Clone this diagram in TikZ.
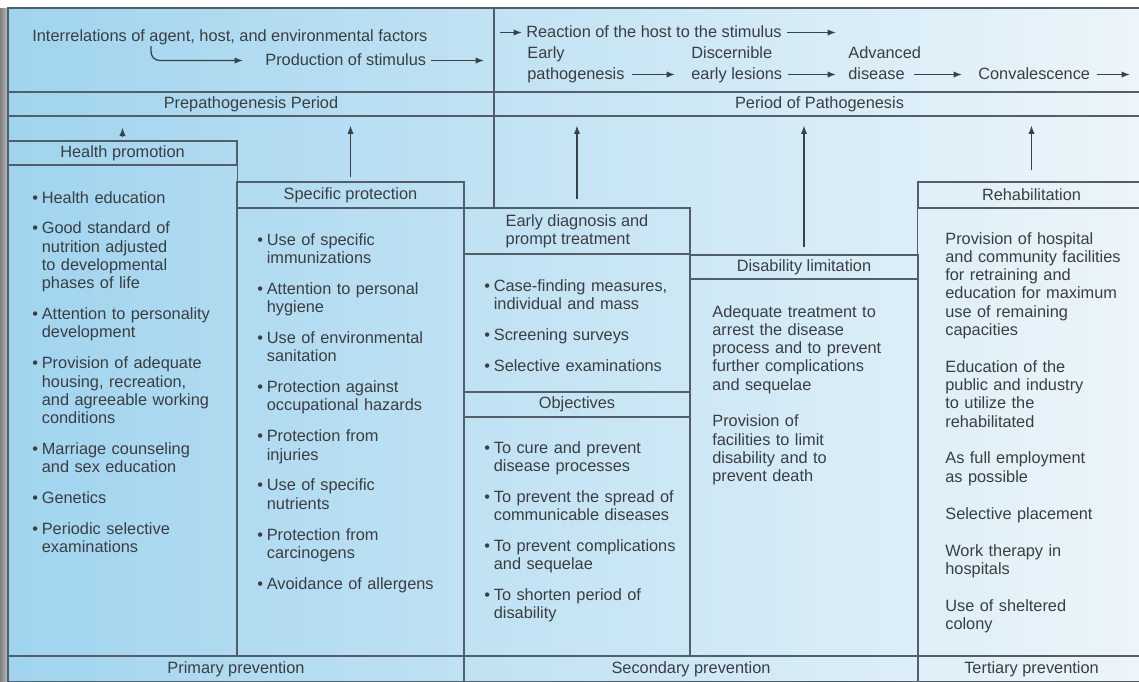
\documentclass[tikz,border=0pt]{standalone}
\usepackage{fontspec}
\setmainfont{Liberation Sans}
\usetikzlibrary{positioning,arrows.meta}

\newdimen\px \px=0.02cm
\definecolor{linec}{RGB}{82,94,104}
\definecolor{txtc}{RGB}{58,62,66}
\definecolor{bgleft}{RGB}{160,212,238}
\definecolor{bgright}{RGB}{236,245,250}

% list lines inside the column boxes
\newcommand{\bfst}[1]{\makebox[9.5\px][l]{\textbullet}#1}
\newcommand{\bpt}[1]{\par\vspace{7.2pt}\noindent\makebox[9.5\px][l]{\textbullet}#1}
\newcommand{\cnt}[1]{\par\noindent\hspace*{9.5\px}#1}
\newcommand{\lin}[1]{\par\noindent #1}
\newcommand{\pgap}{\par\vspace{10.6pt}}

\begin{document}
\begin{tikzpicture}[x=0.02cm, y=-0.02cm, font=\fontsize{9.3}{10.4}\selectfont,
  grid/.style={draw=linec, line width=0.6pt},
  arr/.style={draw=linec!70!black, line width=0.75pt, -{Latex[length=4.8pt,width=3.6pt]}},
  lbl/.style={inner sep=0, text=txtc, text height=0.72em, text depth=0.21em, anchor=base west},
  hdr/.style={draw=linec, line width=0.6pt, inner sep=0, text=txtc},
  body/.style={anchor=base west, inner sep=0, text width=200*\px, text=txtc}]
\useasboundingbox (0,0) rectangle (1139,681);

% background
\fill[white] (0,0) rectangle (1139,681);
\shade[left color=black!50, right color=black!25] (0,8) rectangle (8,681);
\shade[left color=bgleft, right color=bgright] (8,8) rectangle (1139,681);

\draw[grid] (8,681) -- (8,8) -- (1145,8);
\draw[grid] (494,8) -- (494,208);

% top band
\node[lbl] (interr) at (32,41) {Interrelations of agent, host, and environmental factors};
\node[lbl] (prod) at (265,65) {Production of stimulus};
\node[lbl] (react) at (526,37) {Reaction of the host to the stimulus};
\node[lbl] (early1) at (527,58) {Early};
\node[lbl] (early2) at (527,79) {pathogenesis};
\node[lbl] (disc1) at (691,58) {Discernible};
\node[lbl] (disc2) at (691,79) {early lesions};
\node[lbl] (adv1) at (848,58) {Advanced};
\node[lbl] (adv2) at (848,79) {disease};
\node[lbl] (conv) at (978,79) {Convalescence};

\coordinate (hook) at (151,46);
\coordinate (pend) at (484,0);
\coordinate (rbeg) at (500,0);
\coordinate (rend) at (836,0);
\coordinate (cend) at (1130,0);
\draw[arr, rounded corners=5pt] (hook) |- ([shift={(-22,0)}]prod.west);
\draw[arr] ([shift={(5,0)}]prod.east) -- (prod.east -| pend);
\draw[arr] (react.west -| rbeg) -- ([shift={(-4,0)}]react.west);
\draw[arr] ([shift={(5,0)}]react.east) -- (react.east -| rend);
\draw[arr] ([shift={(7,0)}]early2.east) -- ([shift={(-16,0)}]disc2.west);
\draw[arr] ([shift={(5,0)}]disc2.east) -- ([shift={(-12,0)}]adv2.west);
\draw[arr] ([shift={(9,0)}]adv2.east) -- ([shift={(-16,0)}]conv.west);
\draw[arr] ([shift={(7,0)}]conv.east) -- (conv.east -| cend);

% period bands
\node[hdr, minimum width=486*\px, minimum height=24*\px] (prep) at (251,104) {Prepathogenesis Period};
\node[hdr, minimum width=651*\px, minimum height=24*\px] (pathp) at (819.5,104) {Period of Pathogenesis};

% column headers
\node[hdr, minimum width=229*\px, minimum height=24*\px] (hp) at (122.5,153) {Health promotion};
\node[hdr, minimum width=227*\px, minimum height=26*\px] (sp) at (350.5,195) {Specific protection};
\node[hdr, minimum width=226*\px, minimum height=46*\px, align=left] (ed) at (577,231) {Early diagnosis and\\prompt treatment};
\node[hdr, minimum width=228*\px, minimum height=24*\px] (dl) at (804,267) {Disability limitation};
\node[hdr, minimum width=227*\px, minimum height=26*\px] (rh) at (1031.5,195) {Rehabilitation};
\node[hdr, minimum width=226*\px, minimum height=25*\px] (obj) at (577,404.5) {Objectives};

% prevention bands
\node[hdr, minimum width=456*\px, minimum height=26*\px] (prim) at (236,669) {Primary prevention};
\node[hdr, minimum width=454*\px, minimum height=26*\px] (sec) at (691,669) {Secondary prevention};
\node[hdr, minimum width=227*\px, minimum height=26*\px] (tert) at (1031.5,669) {Tertiary prevention};

\draw[grid] (hp.south west) rectangle (prim.north -| hp.south east);
\draw[grid] (sp.south west) rectangle (prim.north -| sp.south east);
\draw[grid] (ed.south west) rectangle (sec.north -| ed.south east);
\draw[grid] (dl.south west) rectangle (sec.north -| dl.south east);
\draw[grid] (rh.south west) rectangle (tert.north -| rh.south east);

\draw[arr, shorten >=6.3pt] ([shift={(0,-3)}]hp.north) -- (hp.north |- prep.south);
\draw[arr, shorten >=5.1pt] ([shift={(0,-4)}]sp.north) -- (sp.north |- prep.south);
\draw[arr, shorten >=5.1pt] ([shift={(0,-8)}]ed.north) -- (ed.north |- pathp.south);
\draw[arr, shorten >=5.1pt] ([shift={(0,-7)}]dl.north) -- (dl.north |- pathp.south);
\draw[arr, shorten >=5.1pt] ([shift={(0,-11)}]rh.north) -- (rh.north |- pathp.south);

% column texts
\node[body] (hptxt) at (32,203) {\bfst{Health education}\bpt{Good standard of}\cnt{nutrition adjusted}\cnt{to developmental}\cnt{phases of life}\bpt{Attention to personality}\cnt{development}\bpt{Provision of adequate}\cnt{housing, recreation,}\cnt{and agreeable working}\cnt{conditions}\bpt{Marriage counseling}\cnt{and sex education}\bpt{Genetics}\bpt{Periodic selective}\cnt{examinations}};
\node[body] (sptxt) at (257,245) {\bfst{Use of specific}\cnt{immunizations}\bpt{Attention to personal}\cnt{hygiene}\bpt{Use of environmental}\cnt{sanitation}\bpt{Protection against}\cnt{occupational hazards}\bpt{Protection from}\cnt{injuries}\bpt{Use of specific}\cnt{nutrients}\bpt{Protection from}\cnt{carcinogens}\bpt{Avoidance of allergens}};
\node[body] (edtxt) at (484,291) {\bfst{Case-finding measures,}\cnt{individual and mass}\bpt{Screening surveys}\bpt{Selective examinations}};
\node[body] (objtxt) at (484,453) {\bfst{To cure and prevent}\cnt{disease processes}\bpt{To prevent the spread of}\cnt{communicable diseases}\bpt{To prevent complications}\cnt{and sequelae}\bpt{To shorten period of}\cnt{disability}};
\node[body] (dltxt) at (712,317) {Adequate treatment to\lin{arrest the disease}\lin{process and to prevent}\lin{further complications}\lin{and sequelae}\pgap\lin{Provision of}\lin{facilities to limit}\lin{disability and to}\lin{prevent death}};
\node[body] (rhtxt) at (945,244) {Provision of hospital\lin{and community facilities}\lin{for retraining and}\lin{education for maximum}\lin{use of remaining}\lin{capacities}\pgap\lin{Education of the}\lin{public and industry}\lin{to utilize the}\lin{rehabilitated}\pgap\lin{As full employment}\lin{as possible}\pgap\lin{Selective placement}\pgap\lin{Work therapy in}\lin{hospitals}\pgap\lin{Use of sheltered}\lin{colony}};
\end{tikzpicture}
\end{document}
